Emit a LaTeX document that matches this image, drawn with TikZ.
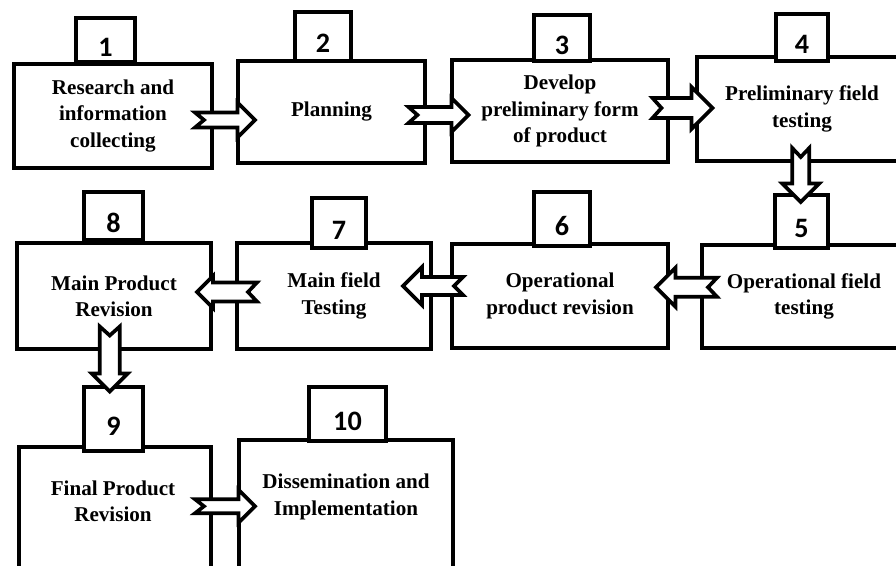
\documentclass[tikz,border=0pt]{standalone}
\usepackage{fontspec}
\setmainfont{Liberation Serif}
\newfontfamily\numfont{Carlito}
\usetikzlibrary{calc}

\newcommand{\unitpx}{0.025cm}
\tikzset{
  stagebox/.style={draw,line width=2.8pt,fill=white,align=center,inner sep=0pt,
    font=\bfseries\fontsize{15}{18.8}\selectfont},
  stagetext/.style={align=center,inner sep=0pt,font=\bfseries\fontsize{15}{18.8}\selectfont},
  numbox/.style={draw,line width=2.8pt,fill=white,inner sep=0pt,text height=0.82cm,
    font=\numfont\bfseries\fontsize{20}{20}\selectfont},
  % hollow arrow with notched tail: length, shaft width, head width
  pics/blockarrow/.style n args={3}{code={
    \path[draw,line width=2.6pt,fill=white]
      (-#1/2,-#2/2) -- (#1/2-#3/2,-#2/2) -- (#1/2-#3/2,-#3/2) -- (#1/2,0)
      -- (#1/2-#3/2,#3/2) -- (#1/2-#3/2,#2/2) -- (-#1/2,#2/2) -- (-#1/2+9,0) -- cycle;
  }}
}

\begin{document}
\begin{tikzpicture}[x=0.025cm,y=-0.025cm]
    \useasboundingbox (0,0) rectangle (896,566);
    \clip (0,0) rectangle (896,566);

    % row 1
    \node[stagebox,minimum width=198*\unitpx,minimum height=104*\unitpx] (b1) at (113,116)
        {Research and\\information\\collecting};
    \node[stagebox,minimum width=187*\unitpx,minimum height=102*\unitpx] (b2) at (331.5,112)
        {Planning};
    \node[stagebox,minimum width=216*\unitpx,minimum height=102*\unitpx] (b3) at (560,111)
        {Develop\\preliminary form\\of product};
    \node[stagebox,minimum width=210*\unitpx,minimum height=104*\unitpx] (b4) at (802,109)
        {Preliminary field\\testing};

    % row 2
    \node[stagebox,minimum width=204*\unitpx,minimum height=103*\unitpx] (b5) at (804,296.5)
        {Operational field\\testing};
    \node[stagebox,minimum width=216*\unitpx,minimum height=104*\unitpx] (b6) at (560,296)
        {Operational\\product revision};
    \node[stagebox,minimum width=194*\unitpx,minimum height=106*\unitpx] (b7) at (334,296)
        {Main field\\Testing};
    \node[stagebox,minimum width=194*\unitpx,minimum height=106*\unitpx] (b8) at (114,296)
        {Main Product\\Revision};

    % row 3 (boxes run off the page)
    \node[stagebox,minimum width=192*\unitpx,minimum height=173*\unitpx] (b9) at (115,533.5) {};
    \node[stagetext] (t9) at (113,501) {Final Product\\Revision};
    \node[stagebox,minimum width=214*\unitpx,minimum height=180*\unitpx] (b10) at (346,530) {};
    \node[stagetext] (t10) at (346,497) {Dissemination and\\Implementation};

    % step numbers
    \node[numbox,minimum width=59*\unitpx,minimum height=44*\unitpx] (n1) at (105.5,40) {1};
    \node[numbox,minimum width=56*\unitpx,minimum height=49*\unitpx] (n2) at (323,36.5) {2};
    \node[numbox,minimum width=56*\unitpx,minimum height=46*\unitpx] (n3) at (562,38) {3};
    \node[numbox,minimum width=52*\unitpx,minimum height=47*\unitpx] (n4) at (802,37.5) {4};
    \node[numbox,minimum width=53*\unitpx,minimum height=53*\unitpx] (n5) at (801.5,221.5) {5};
    \node[numbox,minimum width=56*\unitpx,minimum height=54*\unitpx] (n6) at (562,219) {6};
    \node[numbox,minimum width=54*\unitpx,minimum height=50*\unitpx] (n7) at (339,223) {7};
    \node[numbox,minimum width=59*\unitpx,minimum height=48*\unitpx] (n8) at (113.5,216) {8};
    \node[numbox,minimum width=59*\unitpx,minimum height=64*\unitpx] (n9) at (113.5,419) {9};
    \node[numbox,minimum width=77*\unitpx,minimum height=54*\unitpx] (n10) at (347.5,414) {10};

    % arrows between stages
    \pic at ($(b1.east)!.5!(b2.west)+(0,6)$) {blockarrow={60}{15}{35}};
    \pic at ($(b2.east)!.5!(b3.west)+(0,3.5)$) {blockarrow={60}{16}{34}};
    \pic at ($(b3.east)!.5!(b4.west)+(0,-2)$) {blockarrow={60}{20}{42}};
    \pic[rotate=-90] at ($(b4.south)!.5!(n5.north)+(-1,-3)$) {blockarrow={54}{17}{37}};
    \pic[rotate=180] at ($(b5.west)!.5!(b6.east)+(1.5,-9)$) {blockarrow={61}{19}{39}};
    \pic[rotate=180] at ($(b6.west)!.5!(b7.east)+(-8.5,-10)$) {blockarrow={60}{18}{38}};
    \pic[rotate=180] at ($(b7.west)!.5!(b8.east)+(3,-4)$) {blockarrow={60}{19}{32}};
    \pic[rotate=-90] at ($(b8.south)!.5!(n9.north)+(-4,-9)$) {blockarrow={65}{20}{36}};
    \pic at ($(b9.east)!.5!(b10.west)+(0,-25.5)$) {blockarrow={60}{14}{33}};
\end{tikzpicture}
\end{document}
